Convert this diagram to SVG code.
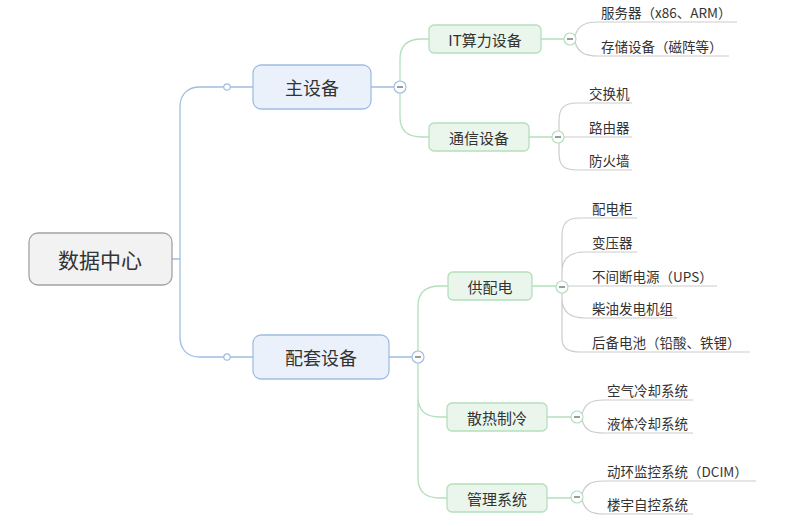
<svg xmlns="http://www.w3.org/2000/svg" width="795" height="526" viewBox="0 0 795 526">
<style>
text{font-family:"Noto Sans CJK SC","Microsoft YaHei",sans-serif;fill:#333}
.root rect{fill:#f2f2f2;stroke:#a3a3a3;stroke-width:1.3}
.l1 rect{fill:#ebf1fa;stroke:#9fbde2;stroke-width:1.3}
.l2 rect{fill:#eaf6ec;stroke:#b3dfbb;stroke-width:1.3}
.nt{text-anchor:middle;dominant-baseline:central}
.root text{font-size:21px}
.l1 text{font-size:18px}
.l2 text{font-size:15px}
.leaf text{font-size:13.5px}
.cb{fill:none;stroke:#9fbde2;stroke-width:1.3}
.cg{fill:none;stroke:#b3dfbb;stroke-width:1.3}
.cl{fill:none;stroke:#cccccc;stroke-width:1.2}
.tog circle{fill:#fff;stroke-width:1.2}
.tog line{stroke:#666;stroke-width:1.3}
.dot{fill:#fff;stroke:#9fbde2;stroke-width:1.2}
</style>
<rect width="795" height="526" fill="#fff"/>
<g id="connectors">
  <path class="cb" d="M172,259 H180 M180,259 V107 C180,94 188,87 200,87 H224 M230,87 H253"/>
  <path class="cb" d="M180,259 V337 C180,350 188,357 200,357 H224 M230,357 H253"/>
  <path class="cb" d="M371,87 H394 M389,357 H412"/>
  <path class="cg" d="M400,81 V59 C400,45 408,39 422,39 H429 M400,93 V117 C400,131 408,137 422,137 H429"/>
  <path class="cg" d="M541,39 H564 M529,137 H552"/>
  <path class="cg" d="M418,351 V306 C418,292 426,286 440,286 H448 M418,363 V397 C418,411 426,417 440,417 H447 M418,397 V478 C418,492 426,498 440,498 H447"/>
  <path class="cg" d="M532,286 H556 M547,417 H571 M547,498 H571"/>
  <!-- IT leaves -->
  <path class="cl" d="M575,36 C578,26 584,22 598,22 H737 M575,42 C578,52 584,56 598,56 H729"/>
  <!-- 通信 leaves -->
  <path class="cl" d="M559,131 V121 C559,108 564,103 577,103 H632 M564,137 H632 M559,143 V153 C559,166 564,170 577,170 H632"/>
  <!-- 供配电 leaves -->
  <path class="cl" d="M562,281 V236 C562,223 567,218 580,218 H637 M562,272 C562,258 570,252 585,252 H637 M568,286 H717 M562,298 C562,312 570,318 585,318 H677 M562,293 V339 C562,347 567,352 580,352 H750"/>
  <!-- 散热 leaves -->
  <path class="cl" d="M582,414 C585,404 590,400 604,400 H693 M582,420 C585,430 590,433 604,433 H693"/>
  <!-- 管理 leaves -->
  <path class="cl" d="M582,494 C585,485 590,481 604,481 H756 M582,500 C585,510 590,514 604,514 H693"/>
  <circle class="dot" cx="227" cy="87" r="3.2"/>
  <circle class="dot" cx="227" cy="357" r="3.2"/>
</g>
<g id="toggles" class="tog">
  <circle cx="400" cy="87" r="6" stroke="#9fbde2"/><line x1="397" y1="87" x2="403" y2="87"/>
  <circle cx="418" cy="357" r="6" stroke="#9fbde2"/><line x1="415" y1="357" x2="421" y2="357"/>
  <circle cx="570" cy="39" r="6" stroke="#b3dfbb"/><line x1="567" y1="39" x2="573" y2="39"/>
  <circle cx="558" cy="137" r="6" stroke="#b3dfbb"/><line x1="555" y1="137" x2="561" y2="137"/>
  <circle cx="562" cy="287" r="6" stroke="#b3dfbb"/><line x1="559" y1="287" x2="565" y2="287"/>
  <circle cx="577" cy="417" r="6" stroke="#b3dfbb"/><line x1="574" y1="417" x2="580" y2="417"/>
  <circle cx="577" cy="497" r="6" stroke="#b3dfbb"/><line x1="574" y1="497" x2="580" y2="497"/>
</g>
<g id="root" class="root"><rect x="29" y="233" width="143" height="52" rx="9"/><text class="nt" x="100" y="259">数据中心</text></g>
<g id="main" class="l1"><rect x="253" y="65" width="118" height="44" rx="8"/><text class="nt" x="312" y="87">主设备</text></g>
<g id="support" class="l1"><rect x="253" y="335" width="136" height="44" rx="8"/><text class="nt" x="321" y="357">配套设备</text></g>
<g id="it" class="l2"><rect x="429" y="25" width="112" height="28" rx="5"/><text class="nt" x="485" y="39">IT算力设备</text></g>
<g id="comm" class="l2"><rect x="429" y="123" width="100" height="28" rx="5"/><text class="nt" x="479" y="137">通信设备</text></g>
<g id="power" class="l2"><rect x="448" y="272" width="84" height="28" rx="5"/><text class="nt" x="490" y="286">供配电</text></g>
<g id="cooling" class="l2"><rect x="447" y="403" width="100" height="28" rx="5"/><text class="nt" x="497" y="417">散热制冷</text></g>
<g id="mgmt" class="l2"><rect x="447" y="484" width="100" height="28" rx="5"/><text class="nt" x="497" y="498">管理系统</text></g>
<g id="leaf-server" class="leaf"><text x="601" y="18">服务器（x86、ARM）</text></g>
<g id="leaf-storage" class="leaf"><text x="601" y="52">存储设备（磁阵等）</text></g>
<g id="leaf-switch" class="leaf"><text x="589" y="99">交换机</text></g>
<g id="leaf-router" class="leaf"><text x="589" y="133">路由器</text></g>
<g id="leaf-firewall" class="leaf"><text x="589" y="166">防火墙</text></g>
<g id="leaf-cabinet" class="leaf"><text x="592" y="214">配电柜</text></g>
<g id="leaf-transformer" class="leaf"><text x="592" y="248">变压器</text></g>
<g id="leaf-ups" class="leaf"><text x="592" y="282">不间断电源（UPS）</text></g>
<g id="leaf-diesel" class="leaf"><text x="592" y="314">柴油发电机组</text></g>
<g id="leaf-battery" class="leaf"><text x="592" y="348">后备电池（铅酸、铁锂）</text></g>
<g id="leaf-air" class="leaf"><text x="607" y="396">空气冷却系统</text></g>
<g id="leaf-liquid" class="leaf"><text x="607" y="429">液体冷却系统</text></g>
<g id="leaf-dcim" class="leaf"><text x="607" y="477">动环监控系统（DCIM）</text></g>
<g id="leaf-bas" class="leaf"><text x="607" y="510">楼宇自控系统</text></g>
</svg>
